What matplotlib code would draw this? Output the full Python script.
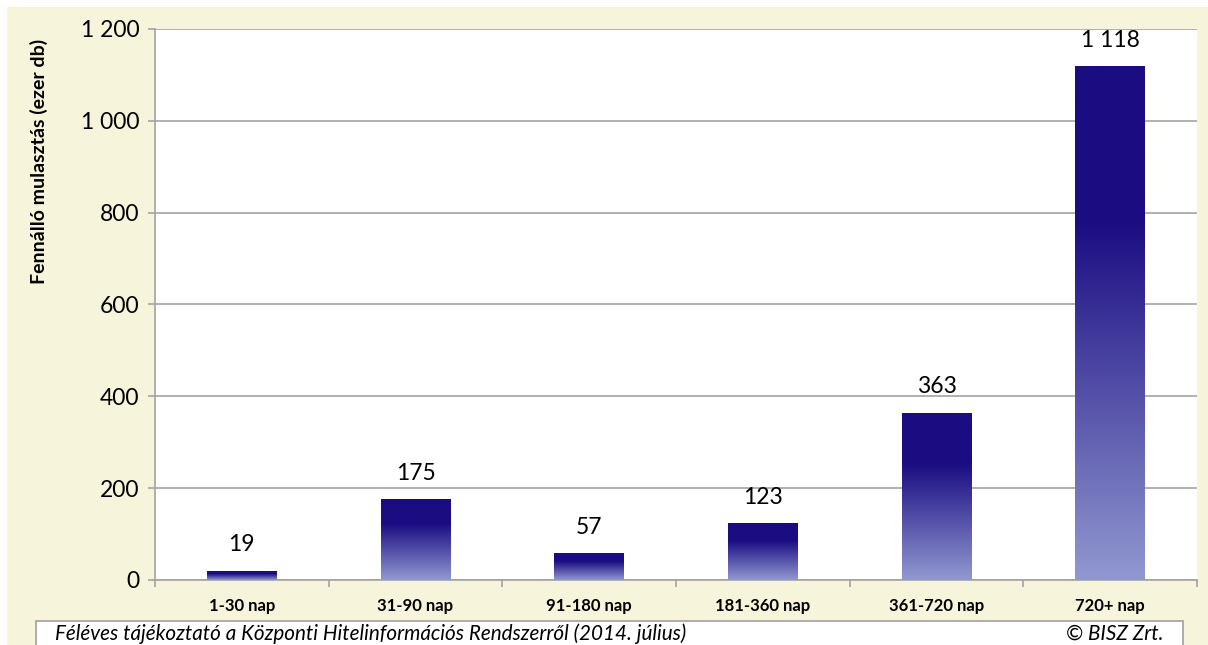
import matplotlib.pyplot as plt
import matplotlib.patches as patches
import numpy as np
from matplotlib.colors import to_rgb
from matplotlib.ticker import FuncFormatter

categories = ["1-30 nap", "31-90 nap", "91-180 nap", "181-360 nap", "361-720 nap", "720+ nap"]
values = [19, 175, 57, 123, 363, 1118]
y_ticks = [0, 200, 400, 600, 800, 1000, 1200]

ylabel = "Fennálló mulasztás (ezer db)"
source = "Féléves tájékoztató a Központi Hitelinformációs Rendszerről (2014. július)"
credit = "© BISZ Zrt."

FONT = "Lato"
W, H = 1208, 645
cream = "#F6F4DA"
dark = np.array(to_rgb("#1B0C82"))
light = np.array(to_rgb("#9198D0"))
grid_c = "#A3A3A3"


def fmt(v, pos=None):
    return f"{int(v):,}".replace(",", " ")


def gradient():
    # rows top -> bottom: solid dark for top 30%, then fade to light
    t = np.linspace(0, 1, 200)
    f = np.clip((t - 0.3) / 0.7, 0, 1)
    col = dark[None, :] * (1 - f[:, None]) + light[None, :] * f[:, None]
    return col[:, None, :]


fig = plt.figure(figsize=(W / 100, H / 100), dpi=100)
fig.patch.set_facecolor("white")
fig.add_artist(patches.Rectangle((7 / W, 0), 1 - 7 / W, 1 - 7 / H,
                                 transform=fig.transFigure, facecolor=cream,
                                 edgecolor="none", zorder=-5))

ax = fig.add_axes([155 / W, (H - 580) / H, (1197 - 155) / W, (580 - 29) / H])
ax.set_facecolor("white")

x = np.arange(len(categories))
bw = 0.403
grad = gradient()
for xi, v in zip(x, values):
    ax.imshow(grad, extent=[xi - bw / 2, xi + bw / 2, 0, v], aspect="auto",
              interpolation="bilinear", zorder=3)
    ax.annotate(fmt(v), (xi, v), xytext=(0, 19), textcoords="offset points",
                ha="center", va="center", fontsize=16.5, family=FONT, zorder=4)

ax.set_xlim(-0.5, len(categories) - 0.5)
ax.set_ylim(0, 1200)
ax.set_yticks(y_ticks)
ax.yaxis.set_major_formatter(FuncFormatter(fmt))
ax.grid(axis="y", color=grid_c, linewidth=1.2, zorder=0)
ax.set_axisbelow(True)

ax.set_xticks(x)
ax.set_xticklabels(categories, fontsize=12, fontweight="bold", family=FONT)
ax.set_xticks(np.arange(-0.5, len(categories)), minor=True)
ax.tick_params(axis="x", which="major", length=0, pad=13)
ax.tick_params(axis="x", which="minor", length=5, width=1.2, color=grid_c, direction="out")
ax.tick_params(axis="y", length=5, width=1.2, color=grid_c, direction="out", pad=6)
for lab in ax.get_yticklabels():
    lab.set_fontsize(16.5)
    lab.set_family(FONT)

for s in ["top", "right"]:
    ax.spines[s].set_visible(False)
for s in ["left", "bottom"]:
    ax.spines[s].set_color(grid_c)
    ax.spines[s].set_linewidth(1.2)

fig.text(39 / W, 1 - 161 / H, ylabel, rotation=90, ha="center", va="center",
         fontsize=14, fontweight="bold", family=FONT)

# source box at the bottom
fig.add_artist(patches.Rectangle((36 / W, -0.01), (1183 - 36) / W, (H - 621) / H + 0.01,
                                 transform=fig.transFigure, facecolor="white",
                                 edgecolor="#A0A0A0", linewidth=1.2, zorder=-4))
fig.text(55 / W, 1 - 634 / H, source, ha="left", va="center", fontsize=14.9,
         style="italic", family=FONT)
fig.text(1164 / W, 1 - 634 / H, credit, ha="right", va="center", fontsize=14.9,
         style="italic", family=FONT)

fig.savefig("out.png", dpi=100)
